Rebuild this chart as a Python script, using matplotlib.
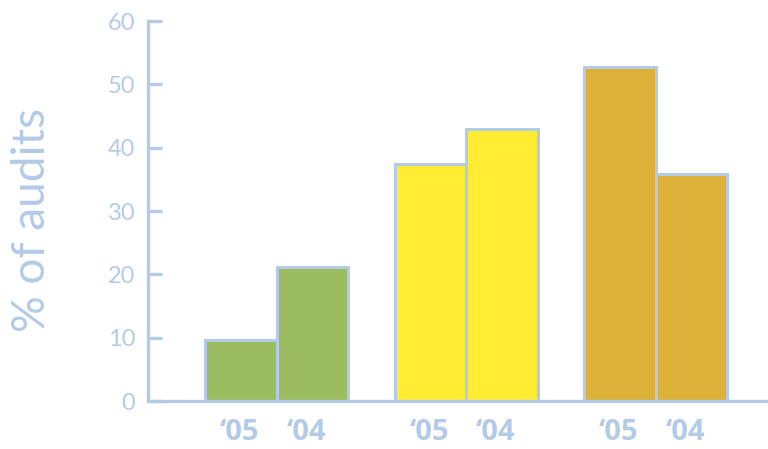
import numpy as np
import matplotlib.pyplot as plt

# data
groups = ['A', 'B', 'C']
years = ['\u201805', '\u201804']
vals_05 = [9.7, 37.4, 52.7]
vals_04 = [21.1, 42.9, 35.9]
colors = ['#9bbd5f', '#ffec33', '#ddb038']

blue = '#b4cbe8'
plt.rcParams['font.family'] = ['Lato', 'DejaVu Sans']

fig = plt.figure(figsize=(7.68, 4.49), dpi=100)
ax = fig.add_axes([0.1927, 0.1069, 0.8073, 0.8463])

centers = 1.8 + 2.65 * np.arange(len(groups))
w = 1.0
ax.bar(centers - w/2, vals_05, width=w, color=colors, edgecolor=blue, linewidth=2.2, zorder=2)
ax.bar(centers + w/2, vals_04, width=w, color=colors, edgecolor=blue, linewidth=2.2, zorder=2)

ax.set_xlim(0, 620/71.5)
ax.set_ylim(0, 60)
ax.set_yticks(range(0, 61, 10))
ax.set_xticks([])
for s in ['top', 'right']:
    ax.spines[s].set_visible(False)
for s in ['left', 'bottom']:
    ax.spines[s].set_color(blue)
    ax.spines[s].set_linewidth(2.4)
    ax.spines[s].set_zorder(3)
ax.tick_params(axis='y', direction='in', length=10, width=2.4, color=blue,
               labelcolor=blue, labelsize=17, pad=9)

for c in centers:
    for off, yr, sh in zip([-w/2, w/2], years, [-0.02, -0.09]):
        ax.text(c + off + sh, -5, yr, ha='center', va='center', color=blue,
                fontsize=21, fontweight='bold', family=['Open Sans', 'DejaVu Sans'],
                clip_on=False)

fig.text(0.042, 0.51, '% of audits', rotation=90, ha='center', va='center',
         color=blue, fontsize=33)

plt.savefig('out.png', dpi=100)
